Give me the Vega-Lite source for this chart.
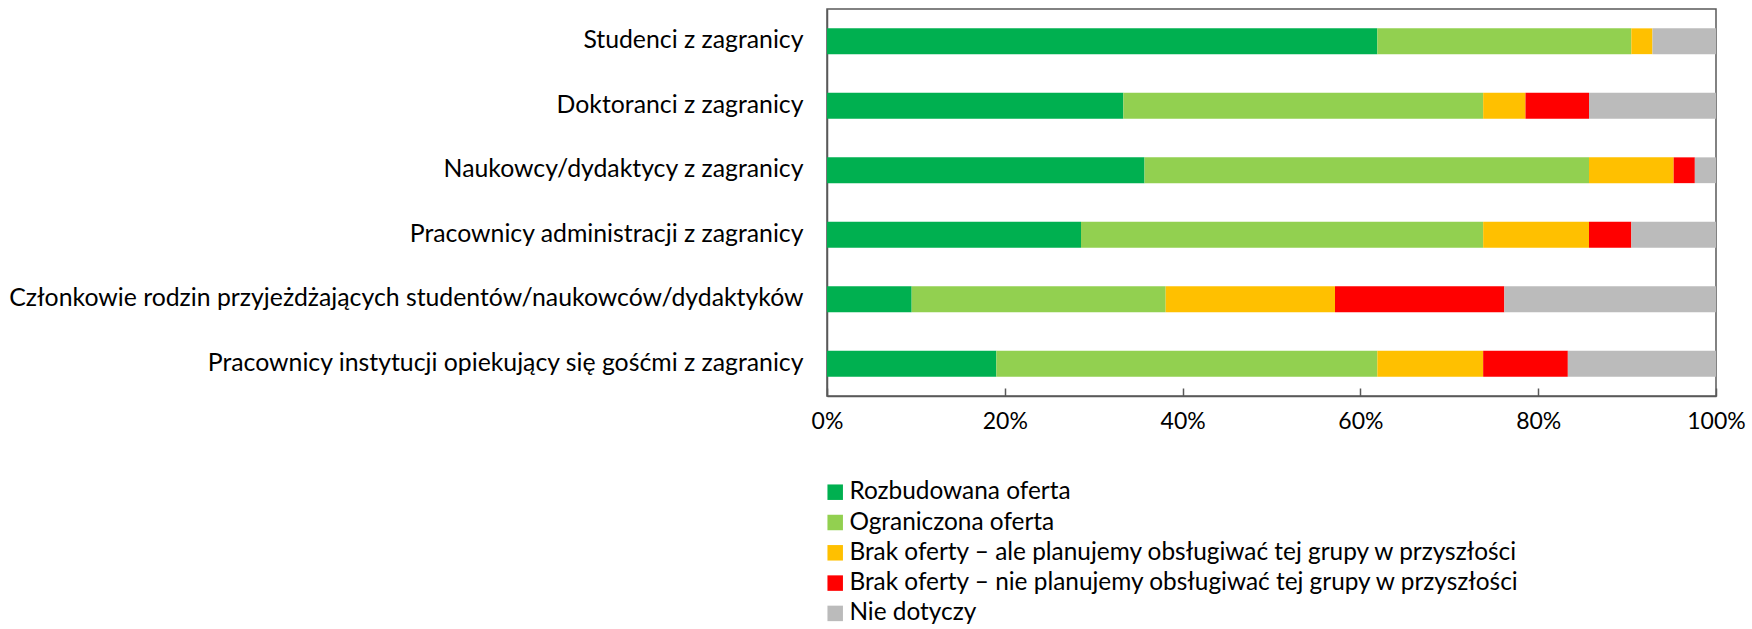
{
  "$schema": "https://vega.github.io/schema/vega-lite/v6.json",
  "width": 889,
  "height": 387,
  "autosize": {"type": "none"},
  "padding": {"left": 827, "top": 9, "right": 36, "bottom": 233},
  "background": "white",
  "config": {
    "font": "Lato",
    "view": {"stroke": "#595959", "strokeWidth": 1.5},
    "axis": {"labelFont": "Lato", "labelColor": "#000000", "labelFontSize": 24.8, "grid": false, "domainColor": "#595959", "tickColor": "#595959", "domainWidth": 1.5}
  },
  "data": {
    "values": [
      {"grupa": "Studenci z zagranicy", "kategoria": "Rozbudowana oferta", "k": 1, "n": 26},
      {"grupa": "Studenci z zagranicy", "kategoria": "Ograniczona oferta", "k": 2, "n": 12},
      {"grupa": "Studenci z zagranicy", "kategoria": "Brak oferty – ale planujemy obsługiwać tej grupy w przyszłości", "k": 3, "n": 1},
      {"grupa": "Studenci z zagranicy", "kategoria": "Brak oferty – nie planujemy obsługiwać tej grupy w przyszłości", "k": 4, "n": 0},
      {"grupa": "Studenci z zagranicy", "kategoria": "Nie dotyczy", "k": 5, "n": 3},
      {"grupa": "Doktoranci z zagranicy", "kategoria": "Rozbudowana oferta", "k": 1, "n": 14},
      {"grupa": "Doktoranci z zagranicy", "kategoria": "Ograniczona oferta", "k": 2, "n": 17},
      {"grupa": "Doktoranci z zagranicy", "kategoria": "Brak oferty – ale planujemy obsługiwać tej grupy w przyszłości", "k": 3, "n": 2},
      {"grupa": "Doktoranci z zagranicy", "kategoria": "Brak oferty – nie planujemy obsługiwać tej grupy w przyszłości", "k": 4, "n": 3},
      {"grupa": "Doktoranci z zagranicy", "kategoria": "Nie dotyczy", "k": 5, "n": 6},
      {"grupa": "Naukowcy/dydaktycy z zagranicy", "kategoria": "Rozbudowana oferta", "k": 1, "n": 15},
      {"grupa": "Naukowcy/dydaktycy z zagranicy", "kategoria": "Ograniczona oferta", "k": 2, "n": 21},
      {"grupa": "Naukowcy/dydaktycy z zagranicy", "kategoria": "Brak oferty – ale planujemy obsługiwać tej grupy w przyszłości", "k": 3, "n": 4},
      {"grupa": "Naukowcy/dydaktycy z zagranicy", "kategoria": "Brak oferty – nie planujemy obsługiwać tej grupy w przyszłości", "k": 4, "n": 1},
      {"grupa": "Naukowcy/dydaktycy z zagranicy", "kategoria": "Nie dotyczy", "k": 5, "n": 1},
      {"grupa": "Pracownicy administracji z zagranicy", "kategoria": "Rozbudowana oferta", "k": 1, "n": 12},
      {"grupa": "Pracownicy administracji z zagranicy", "kategoria": "Ograniczona oferta", "k": 2, "n": 19},
      {"grupa": "Pracownicy administracji z zagranicy", "kategoria": "Brak oferty – ale planujemy obsługiwać tej grupy w przyszłości", "k": 3, "n": 5},
      {"grupa": "Pracownicy administracji z zagranicy", "kategoria": "Brak oferty – nie planujemy obsługiwać tej grupy w przyszłości", "k": 4, "n": 2},
      {"grupa": "Pracownicy administracji z zagranicy", "kategoria": "Nie dotyczy", "k": 5, "n": 4},
      {"grupa": "Członkowie rodzin przyjeżdżających studentów/naukowców/dydaktyków", "kategoria": "Rozbudowana oferta", "k": 1, "n": 4},
      {"grupa": "Członkowie rodzin przyjeżdżających studentów/naukowców/dydaktyków", "kategoria": "Ograniczona oferta", "k": 2, "n": 12},
      {"grupa": "Członkowie rodzin przyjeżdżających studentów/naukowców/dydaktyków", "kategoria": "Brak oferty – ale planujemy obsługiwać tej grupy w przyszłości", "k": 3, "n": 8},
      {"grupa": "Członkowie rodzin przyjeżdżających studentów/naukowców/dydaktyków", "kategoria": "Brak oferty – nie planujemy obsługiwać tej grupy w przyszłości", "k": 4, "n": 8},
      {"grupa": "Członkowie rodzin przyjeżdżających studentów/naukowców/dydaktyków", "kategoria": "Nie dotyczy", "k": 5, "n": 10},
      {"grupa": "Pracownicy instytucji opiekujący się gośćmi z zagranicy", "kategoria": "Rozbudowana oferta", "k": 1, "n": 8},
      {"grupa": "Pracownicy instytucji opiekujący się gośćmi z zagranicy", "kategoria": "Ograniczona oferta", "k": 2, "n": 18},
      {"grupa": "Pracownicy instytucji opiekujący się gośćmi z zagranicy", "kategoria": "Brak oferty – ale planujemy obsługiwać tej grupy w przyszłości", "k": 3, "n": 5},
      {"grupa": "Pracownicy instytucji opiekujący się gośćmi z zagranicy", "kategoria": "Brak oferty – nie planujemy obsługiwać tej grupy w przyszłości", "k": 4, "n": 4},
      {"grupa": "Pracownicy instytucji opiekujący się gośćmi z zagranicy", "kategoria": "Nie dotyczy", "k": 5, "n": 7}
    ]
  },
  "mark": {"type": "bar"},
  "encoding": {
    "y": {
      "field": "grupa", "type": "nominal", "sort": null, "title": null,
      "scale": {"paddingInner": 0.6, "paddingOuter": 0.3},
      "axis": {"ticks": false, "labelPadding": 24, "labelLimit": 0, "domain": true}
    },
    "x": {
      "field": "n", "type": "quantitative", "stack": "normalize", "title": null,
      "scale": {"domain": [0, 1], "nice": false},
      "axis": {"format": ".0%", "values": [0, 0.2, 0.4, 0.6, 0.8, 1], "tickSize": -8, "tickWidth": 1.5, "labelPadding": 22, "labelFlush": false, "labelFontSize": 23}
    },
    "color": {
      "field": "kategoria", "type": "nominal", "sort": null,
      "scale": {
        "domain": ["Rozbudowana oferta", "Ograniczona oferta", "Brak oferty – ale planujemy obsługiwać tej grupy w przyszłości", "Brak oferty – nie planujemy obsługiwać tej grupy w przyszłości", "Nie dotyczy"],
        "range": ["#00B050", "#92D050", "#FFC000", "#FF0000", "#BBBBBB"]
      },
      "legend": {
        "title": null, "orient": "none", "legendX": -4, "legendY": 471,
        "symbolType": "square", "symbolSize": 240, "symbolStrokeWidth": 0, "symbolOpacity": 1,
        "labelFont": "Lato", "labelFontSize": 24.4, "labelColor": "#000000", "labelOffset": 2,
        "rowPadding": 5.3, "labelLimit": 0
      }
    },
    "order": {"field": "k", "type": "quantitative"}
  }
}
